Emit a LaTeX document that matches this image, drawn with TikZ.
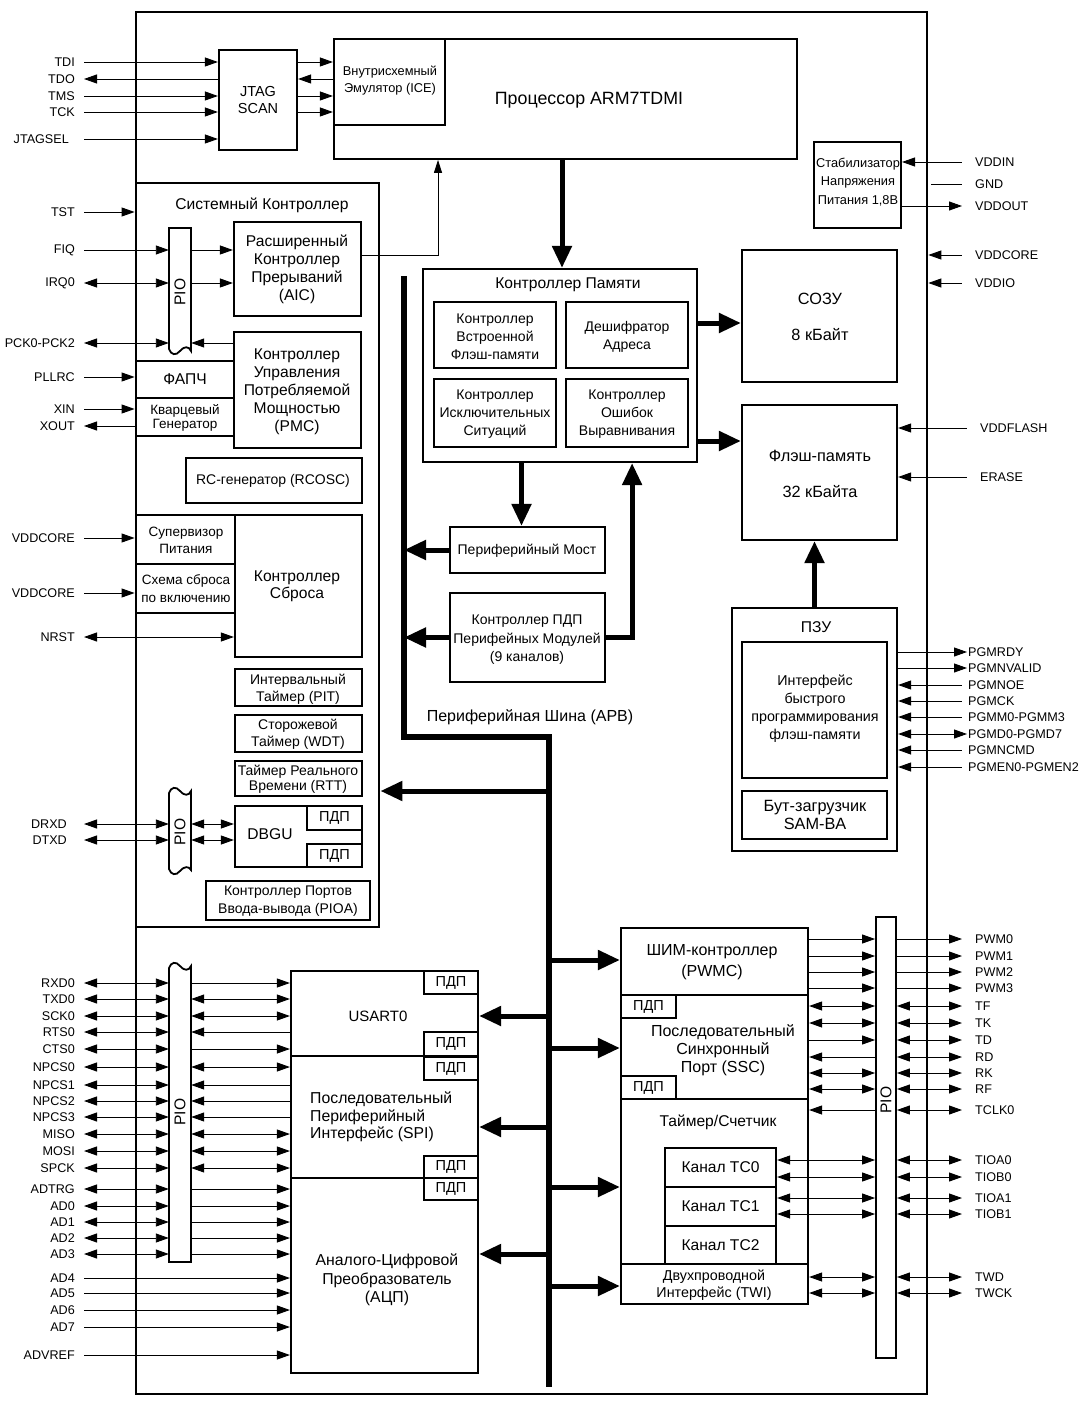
\documentclass[tikz,border=0pt]{standalone}
\usepackage{fontspec}
\setmainfont{Liberation Sans}
\usetikzlibrary{arrows.meta,fit}
\newcommand\mybox[6][]{\node[box,#1,fit={(#3,#4) (#5,#6)}] (#2) {};}
\newcommand\pinl[4][75]{\node[pin,anchor=east] (#2) at (#1,#3) {#4};}
\newcommand\pinr[4]{\node[pin,anchor=west] (#1) at (#2,#3) {#4};}
\begin{document}
\begin{tikzpicture}[x=1pt,y=-1pt,
  box/.style={draw,line width=2.2pt,inner sep=0pt},
  lw/.style={line width=0.9pt},
  arR/.style={lw,-{Triangle[length=13pt,width=9pt]}},
  arL/.style={lw,{Triangle[length=13pt,width=9pt]}-},
  arB/.style={lw,{Triangle[length=13pt,width=9pt]}-{Triangle[length=13pt,width=9pt]}},
  thk/.style={line width=5pt,-{Triangle[length=22pt,width=19pt]}},
  pin/.style={font=\fontsize{12.6}{14}\selectfont,inner sep=0pt},
  t12/.style={font=\fontsize{12.8}{17}\selectfont,align=center,inner sep=0pt},
  t13/.style={font=\fontsize{14}{18}\selectfont,align=center,inner sep=0pt},
  t15/.style={font=\fontsize{15.6}{18}\selectfont,align=center,inner sep=0pt},
  t16/.style={font=\fontsize{16.3}{18}\selectfont,align=center,inner sep=0pt},
  pio/.style={draw,line width=1.8pt},
]
\useasboundingbox (0,0) rectangle (1082,1404);
\coordinate (lx) at (84,0);
\coordinate (rx) at (962,0);
\coordinate (rx2) at (967,0);

% ---------- main chip ----------
\mybox[line width=2.6pt]{chip}{136}{12}{927}{1394}

% ---------- JTAG / processor ----------
\mybox{jtag}{219}{50}{297}{150}
\node[t15,font=\fontsize{14.5}{17}\selectfont] (tjtag) at (258,100) {JTAG\\SCAN};
\mybox[line width=1.8pt]{proc}{334}{39}{797}{159}
\mybox{ice}{334}{39}{445}{125}
\node[t12] (tice) at (390,81) {Внутрисхемный\\Эмулятор (ICE)};
\node[t16,font=\fontsize{17.8}{20}\selectfont] (tproc) at (589,100) {Процессор ARM7TDMI};

\pinl{pTDI}{62}{TDI}
\pinl{pTDO}{79}{TDO}
\pinl{pTMS}{96}{TMS}
\pinl{pTCK}{112}{TCK}
\pinl[69]{pJTS}{139}{JTAGSEL}
\draw[arR] (lx |- pTDI.east) -- (jtag.west |- pTDI.east);
\draw[arL] (lx |- pTDO.east) -- (jtag.west |- pTDO.east);
\draw[arR] (lx |- pTMS.east) -- (jtag.west |- pTMS.east);
\draw[arR] (lx |- pTCK.east) -- (jtag.west |- pTCK.east);
\draw[arR] (lx |- pJTS.east) -- (jtag.west |- pJTS.east);
\draw[arR] (jtag.east |- pTDI.east) -- (ice.west |- pTDI.east);
\draw[arL] (jtag.east |- pTDO.east) -- (ice.west |- pTDO.east);
\draw[arR] (jtag.east |- pTMS.east) -- (ice.west |- pTMS.east);
\draw[arR] (jtag.east |- pTCK.east) -- (ice.west |- pTCK.east);

% ---------- system controller ----------
\mybox[line width=2.8pt]{sysc}{136}{183}{379}{927}
\node[t15] (tsysc) at (262,205) {Системный Контроллер};
\pinl{pTST}{212}{TST}
\draw[arR] (lx |- pTST.east) -- (sysc.west |- pTST.east);

\node[inner sep=0pt,fit={(169,228) (191,352)}] (pio1) {};
\draw[pio] (169,228) -- (191,228) -- (191,351) .. controls (189,346) and (184,346) .. (180,351) .. controls (176,356) and (171,355) .. (169,349) -- cycle;
\node[t15,rotate=90] (lpio1) at (180,292) {PIO};

\mybox{aic}{234}{222}{361}{316}
\node[t15] (taic) at (297,269) {Расширенный\\Контроллер\\Прерываний\\(AIC)};
\mybox{pmc}{234}{332}{361}{448}
\node[t15] (tpmc) at (297,392) {Контроллер\\Управления\\Потребляемой\\Мощностью\\(PMC)};
\mybox{pll}{136}{361}{234}{398}
\node[t15] (tpll) at (185,379) {ФАПЧ};
\mybox{osc}{136}{398}{234}{436}
\node[t13,font=\fontsize{13.5}{14.5}\selectfont] (tosc) at (185,418) {Кварцевый\\Генератор};

\pinl{pFIQ}{250}{FIQ}
\pinl{pIRQ}{283}{IRQ0}
\pinl{pPCK}{343}{PCK0-PCK2}
\pinl{pPLL}{377}{PLLRC}
\pinl{pXIN}{409}{XIN}
\pinl{pXOUT}{426}{XOUT}
\draw[arR] (lx |- pFIQ.east) -- (pio1.west |- pFIQ.east);
\draw[arR] (pio1.east |- pFIQ.east) -- (aic.west |- pFIQ.east);
\draw[arB] (lx |- pIRQ.east) -- (pio1.west |- pIRQ.east);
\draw[arR] (pio1.east |- pIRQ.east) -- (aic.west |- pIRQ.east);
\draw[arB] (lx |- pPCK.east) -- (pio1.west |- pPCK.east);
\draw[arL] (pio1.east |- pPCK.east) -- (pmc.west |- pPCK.east);
\draw[arR] (lx |- pPLL.east) -- (sysc.west |- pPLL.east);
\draw[arR] (lx |- pXIN.east) -- (sysc.west |- pXIN.east);
\draw[arL] (lx |- pXOUT.east) -- (sysc.west |- pXOUT.east);

\path ([yshift=14pt]aic.east) coordinate (aicO);
\path ([xshift=-127.5pt]proc.south) coordinate (procIn);
\draw[lw,-{Triangle[length=13pt,width=8pt]}] (aicO) -| (procIn);

\mybox{rc}{186}{458}{362}{503}
\node[t13] (trc) at (273,481) {RC-генератор (RCOSC)};
\mybox{rst}{235}{515}{362}{657}
\node[t15,font=\fontsize{15.6}{17}\selectfont] (trst) at (297,586) {Контроллер\\Сброса};
\mybox{sup}{136}{515}{235}{564}
\node[t13,font=\fontsize{13.5}{17}\selectfont] (tsup) at (186,540) {Супервизор\\Питания};
\mybox{por}{136}{564}{235}{613}
\node[t13,font=\fontsize{13.5}{18}\selectfont] (tpor) at (186,589) {Схема сброса\\по включению};
\pinl{pVC1}{538}{VDDCORE}
\pinl{pVC2}{593}{VDDCORE}
\pinl{pNRST}{637}{NRST}
\draw[arR] (lx |- pVC1.east) -- (sysc.west |- pVC1.east);
\draw[arR] (lx |- pVC2.east) -- (sysc.west |- pVC2.east);
\draw[arB] (lx |- pNRST.east) -- (rst.west |- pNRST.east);

\mybox{pit}{235}{669}{362}{706}
\node[t13,font=\fontsize{14}{17}\selectfont] (tpit) at (298,689) {Интервальный\\Таймер (PIT)};
\mybox{wdt}{235}{715}{362}{752}
\node[t13,font=\fontsize{14}{17}\selectfont] (twdt) at (298,734) {Сторожевой\\Таймер (WDT)};
\mybox{rtt}{235}{761}{362}{796}
\node[t13,font=\fontsize{14}{15}\selectfont] (trtt) at (298,779) {Таймер Реального\\Времени (RTT)};
\mybox{dbgu}{235}{806}{362}{867}
\mybox{pdpd1}{307}{806}{362}{830}
\mybox{pdpd2}{307}{844}{362}{867}
\node[t15] (tdbgu) at (270,834) {DBGU};
\node[t13,font=\fontsize{14.5}{16}\selectfont] (tpdpd1) at (pdpd1) {ПДП};
\node[t13,font=\fontsize{14.5}{16}\selectfont] (tpdpd2) at (pdpd2) {ПДП};

\node[inner sep=0pt,fit={(169,790) (191,873)}] (pio2) {};
\draw[pio] (169,793) .. controls (171,787) and (176,786) .. (180,791) .. controls (184,796) and (189,796) .. (191,791) -- (191,870) .. controls (189,866) and (184,866) .. (180,871) .. controls (176,876) and (171,875) .. (169,869) -- cycle;
\node[t15,rotate=90] (lpio2) at (180,832) {PIO};
\pinl[67]{pDRXD}{824}{DRXD}
\pinl[67]{pDTXD}{840}{DTXD}
\draw[arB] (lx |- pDRXD.east) -- (pio2.west |- pDRXD.east);
\draw[arB] (lx |- pDTXD.east) -- (pio2.west |- pDTXD.east);
\draw[arB] (pio2.east |- pDRXD.east) -- (dbgu.west |- pDRXD.east);
\draw[arB] (pio2.east |- pDTXD.east) -- (dbgu.west |- pDTXD.east);

\mybox{pioa}{206}{881}{370}{920}
\node[t13] (tpioa) at (288,901) {Контроллер Портов\\Ввода-вывода (PIOA)};

% ---------- memory system ----------
\mybox{mc}{423}{269}{697}{462}
\node[t15] (tmc) at (568,285) {Контроллер Памяти};
\mybox[line width=2pt]{mc1}{434}{302}{556}{368}
\mybox[line width=2pt]{mc2}{566}{302}{688}{368}
\mybox[line width=2pt]{mc3}{434}{379}{556}{447}
\mybox[line width=2pt]{mc4}{566}{379}{688}{447}
\node[t13] (tmc1) at (495,337) {Контроллер\\Встроенной\\Флэш-памяти};
\node[t13] (tmc2) at (627,337) {Дешифратор\\Адреса};
\node[t13] (tmc3) at (495,414) {Контроллер\\Исключительных\\Ситуаций};
\node[t13] (tmc4) at (627,414) {Контроллер\\Ошибок\\Выравнивания};

\mybox{bridge}{450}{527}{605}{573}
\node[t13] (tbridge) at (527,551) {Периферийный Мост};
\mybox{dma}{450}{593}{605}{682}
\node[t13,font=\fontsize{14}{18.5}\selectfont] (tdma) at (527,640) {Контроллер ПДП\\Перифейных Модулей\\(9 каналов)};

\mybox{sram}{742}{250}{897}{382}
\node[t16] (tsram1) at (820,299) {СОЗУ};
\node[t16] (tsram2) at (820,335) {8 кБайт};
\mybox{flash}{742}{405}{897}{540}
\node[t16] (tfl1) at (820,456) {Флэш-память};
\node[t16] (tfl2) at (820,492) {32 кБайта};

\path ([xshift=-3.5pt]proc.south) coordinate (procOut);
\draw[thk] (procOut) -- (procOut |- mc.north);
\path ([yshift=42.5pt]mc.east) coordinate (mcS);
\draw[thk] (mcS) -- (mcS -| sram.west);
\path ([yshift=-75.5pt]mc.east) coordinate (mcF);
\draw[thk] (mcF) -- (mcF -| flash.west);
\path ([xshift=-6pt]bridge.north) coordinate (brIn);
\draw[thk] (brIn |- mc.south) -- (brIn);
\path ([xshift=-66pt]mc.south east) coordinate (mcIn);
\draw[thk] (dma.east) -| (mcIn);

% ---------- APB bus ----------
\coordinate (busT) at (404,276);
\coordinate (busB1) at (404,737);
\coordinate (busB2) at (549,737);
\coordinate (busE) at (549,1387);
\draw[line width=5.5pt] (busT) -- (busB1) -- (busB2) -- (busE);
\node[t15,font=\fontsize{16}{18}\selectfont] (tapb) at (530,717) {Периферийная Шина (APB)};
\draw[thk] (bridge.west) -- (bridge.west -| busT);
\draw[thk] (dma.west) -- (dma.west -| busT);
\coordinate (tapSC) at (549,791);
\draw[thk] (tapSC) -- (tapSC -| sysc.east);

% ---------- regulator / power pins ----------
\mybox[line width=2pt]{stab}{814}{142}{901}{228}
\node[t12,font=\fontsize{12.8}{18.5}\selectfont] (tstab) at (858,182) {Стабилизатор\\Напряжения\\Питания 1,8В};
\pinr{pVDDIN}{975}{162}{VDDIN}
\pinr{pGND}{975}{184}{GND}
\pinr{pVDDOUT}{975}{206}{VDDOUT}
\pinr{pVCR}{975}{255}{VDDCORE}
\pinr{pVIO}{975}{283}{VDDIO}
\pinr{pVFL}{980}{428}{VDDFLASH}
\pinr{pERA}{980}{477}{ERASE}
\coordinate (gndA) at (931,0);
\draw[arL] (stab.east |- pVDDIN.west) -- (rx |- pVDDIN.west);
\draw[lw] (gndA |- pGND.west) -- (rx |- pGND.west);
\draw[arR] (stab.east |- pVDDOUT.west) -- (rx |- pVDDOUT.west);
\draw[arL] (chip.east |- pVCR.west) -- (rx |- pVCR.west);
\draw[arL] (chip.east |- pVIO.west) -- (rx |- pVIO.west);
\draw[arL] (flash.east |- pVFL.west) -- (rx2 |- pVFL.west);
\draw[arL] (flash.east |- pERA.west) -- (rx2 |- pERA.west);

% ---------- ROM ----------
\mybox{rom}{732}{608}{897}{851}
\node[t15] (trom) at (816,627) {ПЗУ};
\mybox{fpi}{742}{642}{887}{778}
\node[t13,font=\fontsize{14.3}{18}\selectfont] (tfpi) at (815,709) {Интерфейс\\быстрого\\программирования\\флэш-памяти};
\mybox{boot}{742}{791}{887}{839}
\node[t16] (tboot) at (815,815) {Бут-загрузчик\\SAM-BA};
\draw[thk] (rom.north) -- (rom.north |- flash.south);

\pinr{pPR}{968}{652}{PGMRDY}
\pinr{pPV}{968}{668}{PGMNVALID}
\pinr{pPO}{968}{685}{PGMNOE}
\pinr{pPC}{968}{701}{PGMCK}
\pinr{pPM}{968}{717}{PGMM0-PGMM3}
\pinr{pPD}{968}{734}{PGMD0-PGMD7}
\pinr{pPN}{968}{750}{PGMNCMD}
\pinr{pPE}{968}{767}{PGMEN0-PGMEN2}
\draw[arR] (rom.east |- pPR.west) -- (rx2 |- pPR.west);
\draw[arR] (rom.east |- pPV.west) -- (rx2 |- pPV.west);
\draw[arL] (rom.east |- pPO.west) -- (rx |- pPO.west);
\draw[arL] (rom.east |- pPC.west) -- (rx |- pPC.west);
\draw[arL] (rom.east |- pPM.west) -- (rx |- pPM.west);
\draw[arB] (rom.east |- pPD.west) -- (rx2 |- pPD.west);
\draw[arL] (rom.east |- pPN.west) -- (rx |- pPN.west);
\draw[arL] (rom.east |- pPE.west) -- (rx |- pPE.west);

% ---------- USART / SPI / ADC ----------
\mybox{usart}{291}{971}{478}{1056}
\mybox{spi}{291}{1056}{478}{1178}
\mybox{adc}{291}{1178}{478}{1373}
\mybox{pu1}{424}{971}{478}{994}
\mybox{pu2}{424}{1032}{478}{1056}
\mybox{ps1}{424}{1057}{478}{1080}
\mybox{ps2}{424}{1156}{478}{1178}
\mybox{pa1}{424}{1178}{478}{1200}
\foreach \b in {pu1,pu2,ps1,ps2,pa1}{\node[t13,font=\fontsize{14.5}{16}\selectfont] (t\b) at (\b) {ПДП};}
\node[t15,font=\fontsize{15}{18}\selectfont] (tusart) at (378,1016) {USART0};
\node[t16,font=\fontsize{15.8}{17.5}\selectfont,align=left,anchor=west] (tspi) at (310,1117) {Последовательный\\Периферийный\\Интерфейс (SPI)};
\node[t16,font=\fontsize{15.8}{18.5}\selectfont] (tadc) at (387,1280) {Аналого-Цифровой\\Преобразователь\\(АЦП)};

\node[inner sep=0pt,fit={(169,965) (191,1262)}] (pio3) {};
\draw[pio] (169,968) .. controls (171,962) and (176,961) .. (180,966) .. controls (184,971) and (189,971) .. (191,966) -- (191,1262) -- (169,1262) -- cycle;
\node[t15,rotate=90] (lpio3) at (180,1112) {PIO};

\foreach \n/\y/\t/\k/\bb in {RXD0/983/RXD0/arR/usart, TXD0/999/TXD0/arB/usart, SCK0/1016/SCK0/arB/usart, RTS0/1032/RTS0/arL/usart, CTS0/1049/CTS0/arR/usart,
  NPCS0/1067/NPCS0/arB/spi, NPCS1/1085/NPCS1/arL/spi, NPCS2/1101/NPCS2/arL/spi, NPCS3/1117/NPCS3/arL/spi, MISO/1134/MISO/arB/spi, MOSI/1151/MOSI/arB/spi, SPCK/1168/SPCK/arB/spi,
  ADTRG/1189/ADTRG/arR/adc, AD0/1206/AD0/arR/adc, AD1/1222/AD1/arR/adc, AD2/1238/AD2/arR/adc, AD3/1254/AD3/arR/adc}{
  \pinl{p\n}{\y}{\t}
  \draw[arB] (lx |- p\n.east) -- (pio3.west |- p\n.east);
  \draw[\k] (pio3.east |- p\n.east) -- (\bb.west |- p\n.east);
}
\foreach \n/\y in {AD4/1278, AD5/1293, AD6/1310, AD7/1327, ADVREF/1355}{
  \pinl{p\n}{\y}{\n}
  \draw[arR] (lx |- p\n.east) -- (adc.west |- p\n.east);
}
\coordinate (tapU) at (549,1016);
\coordinate (tapS) at (549,1127);
\coordinate (tapA) at (549,1254);
\draw[thk] (tapU) -- (tapU -| usart.east);
\draw[thk] (tapS) -- (tapS -| spi.east);
\draw[thk] (tapA) -- (tapA -| adc.east);

% ---------- PWM / SSC / TC / TWI ----------
\mybox{pwm}{621}{928}{808}{995}
\mybox{ssc}{621}{995}{808}{1099}
\mybox{tc}{621}{1099}{808}{1264}
\mybox{twi}{621}{1264}{808}{1304}
\mybox{pdps1}{621}{995}{676}{1018}
\mybox{pdps2}{621}{1076}{676}{1099}
\node[t13,font=\fontsize{14.5}{16}\selectfont] (tpdps1) at (pdps1) {ПДП};
\node[t13,font=\fontsize{14.5}{16}\selectfont] (tpdps2) at (pdps2) {ПДП};
\mybox{ch0}{665}{1148}{776}{1187}
\mybox{ch1}{665}{1187}{776}{1226}
\mybox{ch2}{665}{1226}{776}{1264}
\node[t16,font=\fontsize{16}{21}\selectfont] (tpwm) at (712,962) {ШИМ-контроллер\\(PWMC)};
\node[t16,font=\fontsize{16}{18}\selectfont] (tssc) at (723,1050) {Последовательный\\Синхронный\\Порт (SSC)};
\node[t15] (ttc) at (718,1122) {Таймер/Счетчик};
\node[t15] (tch0) at (ch0) {Канал TC0};
\node[t15] (tch1) at (ch1) {Канал TC1};
\node[t15] (tch2) at (ch2) {Канал TC2};
\node[t13,font=\fontsize{14.3}{17}\selectfont] (ttwi) at (714,1285) {Двухпроводной\\Интерфейс (TWI)};

\mybox[line width=1.8pt]{pior}{876}{917}{896}{1358}
\node[t15,rotate=90] (lpior) at (886,1100) {PIO};

\foreach \n/\y/\k/\o/\bb in {PWM0/939/arR/arR/pwm, PWM1/956/arR/arR/pwm, PWM2/972/arR/arR/pwm, PWM3/988/arR/arR/pwm,
  TF/1006/arB/arB/ssc, TK/1023/arB/arB/ssc, TD/1040/arR/arB/ssc, RD/1057/arL/arB/ssc, RK/1073/arB/arB/ssc, RF/1089/arB/arB/ssc,
  TCLK0/1110/arL/arB/tc, TIOA0/1160/arB/arB/ch0, TIOB0/1177/arB/arB/ch0, TIOA1/1198/arB/arB/ch1, TIOB1/1214/arB/arB/ch1,
  TWD/1277/arB/arB/twi, TWCK/1293/arB/arB/twi}{
  \pinr{p\n}{975}{\y}{\n}
  \draw[\k] (\bb.east |- p\n.west) -- (pior.west |- p\n.west);
  \draw[\o] (pior.east |- p\n.west) -- (rx |- p\n.west);
}
\coordinate (tapP) at (549,960);
\coordinate (tapSS) at (549,1048);
\coordinate (tapT) at (549,1187);
\coordinate (tapW) at (549,1286);
\draw[thk] (tapP) -- (tapP -| pwm.west);
\draw[thk] (tapSS) -- (tapSS -| ssc.west);
\draw[thk] (tapT) -- (tapT -| tc.west);
\draw[thk] (tapW) -- (tapW -| twi.west);
\end{tikzpicture}
\end{document}
